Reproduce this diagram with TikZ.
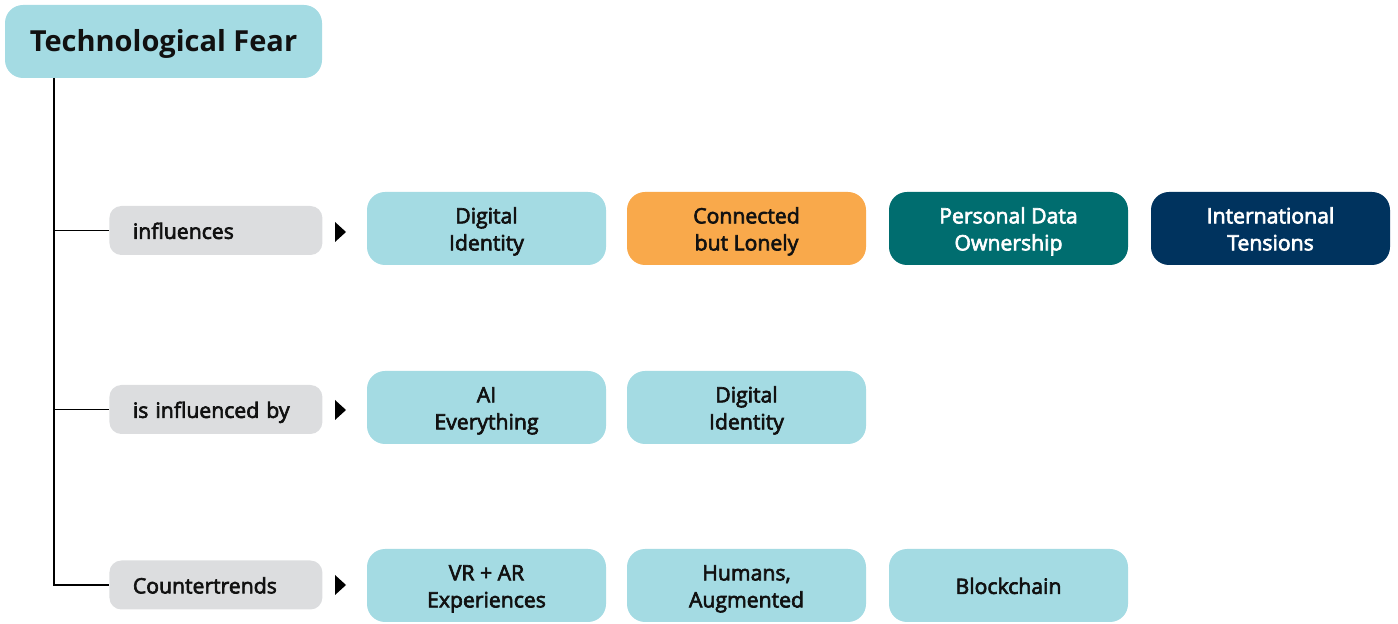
\documentclass[tikz,border=0pt]{standalone}
\usepackage{fontspec}
\setmainfont{Open Sans}
\newfontfamily\semib{Open Sans}[FakeBold=3]
\usetikzlibrary{positioning}
\definecolor{lblue}{HTML}{A4DBE3}
\definecolor{lgray}{HTML}{DCDDDF}
\definecolor{orng}{HTML}{F9A94B}
\definecolor{teal2}{HTML}{006D6F}
\definecolor{navy}{HTML}{00335E}
\definecolor{txt}{HTML}{111111}
\tikzset{
  px/.style={x=0.5pt,y=-0.5pt},
  item/.style={rounded corners=9pt, minimum width=119.5pt, minimum height=36.5pt, inner sep=0pt,
    align=center, font=\semib\fontsize{10.6}{13.5}\selectfont, text=txt, fill=lblue,
    text height=23pt, text depth=1.1pt},
  oneline/.style={text height=9.5pt},
  rel/.style={rounded corners=6pt, minimum width=106.5pt, minimum height=24.5pt, inner sep=0pt,
    fill=lgray, text=txt, font=\semib\fontsize{10.6}{13.5}\selectfont, anchor=west, text width=95pt, align=left,
    text height=9.5pt, text depth=1.1pt},
  titlebox/.style={item, minimum width=158.5pt, minimum height=36.5pt,
    font=\bfseries\fontsize{14.5}{17}\selectfont, text height=12pt, text depth=2pt},
  tri/.style={fill=black, draw=none},
  conn/.style={draw=black, line width=0.6pt}
}
\begin{document}
\begin{tikzpicture}[px]
\useasboundingbox (0,0) rectangle (1398,624);
\node[titlebox] (title) at (163.5,41.5) {Technological Fear};
% relation labels
\node[rel] (r1) at (109,230.5) {\hspace*{6pt}influences};
\node[rel] (r2) at (109,409.5) {\hspace*{6pt}is influenced by};
\node[rel] (r3) at (109,585) {\hspace*{6pt}Countertrends};
\coordinate (top) at (54,78);
\coordinate (b1) at (54,230.5);
\coordinate (b2) at (54,409.5);
\coordinate (b3) at (54,585);
\draw[conn] (top) -- (b3) -- (r3.west);
\draw[conn] (b1) -- (r1.west);
\draw[conn] (b2) -- (r2.west);
% triangles
\foreach \y/\n in {232/t1,410/t2,585/t3}{
  \coordinate (\n) at (335,\y);
  \fill[tri] (\n) ++(0,-10) -- ++(11,10) -- ++(-11,10) -- cycle;
}
% row 1
\node[item] (a1) at (486.5,228.5) {Digital\\Identity};
\node[item, fill=orng] (a2) at (746.5,228.5) {Connected\\but Lonely};
\node[item, fill=teal2, text=white] (a3) at (1008.5,228.5) {Personal Data\\Ownership};
\node[item, fill=navy, text=white] (a4) at (1270.5,228.5) {International\\Tensions};
% row 2
\node[item] (b1n) at (486.5,407.5) {AI\\Everything};
\node[item] (b2n) at (746.5,407.5) {Digital\\Identity};
% row 3
\node[item] (c1) at (486.5,585.5) {VR + AR\\Experiences};
\node[item] (c2) at (746.5,585.5) {Humans,\\Augmented};
\node[item, oneline] (c3) at (1008.5,585.5) {Blockchain};
\end{tikzpicture}
\end{document}
